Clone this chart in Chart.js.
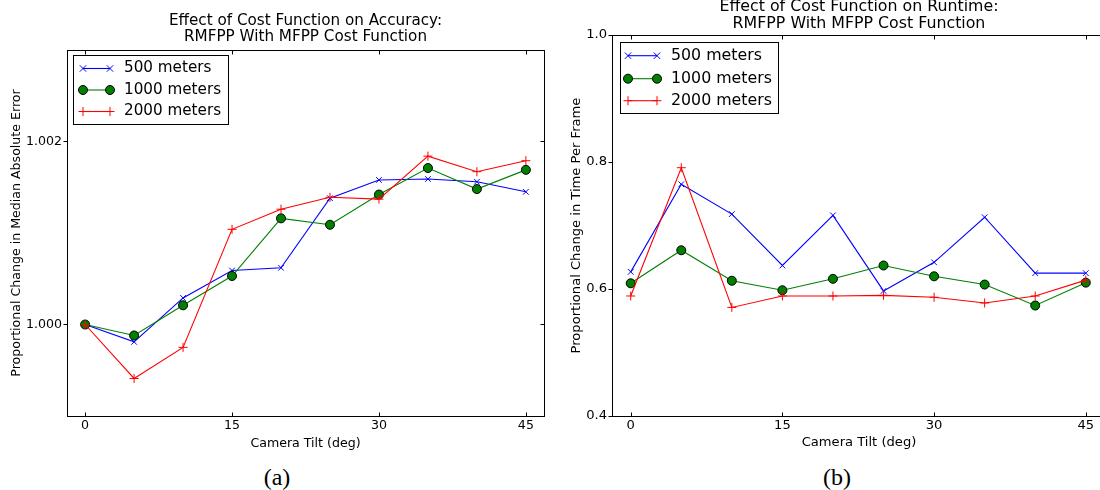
<!DOCTYPE html>
<html lang="en">
<head>
<meta charset="UTF-8">
<title>Effect of Cost Function</title>
<script src="https://cdn.jsdelivr.net/npm/chart.js"></script>
<style>
  body { margin: 0; background: #fff; width: 1100px; height: 490px; overflow: hidden; position: relative; }
  .panel { position: absolute; top: 0; width: 560px; height: 460px; }
  #panelA { left: 0; }
  #panelB { left: 560px; }
  .caption { position: absolute; top: 463px; width: 60px; text-align: center;
             font-family: 'Liberation Serif', serif; font-size: 24px; line-height: 28px; color: #000; }
</style>
</head>
<body>
<div class="panel" id="panelA"><canvas id="accChart" width="560" height="460"></canvas></div>
<div class="panel" id="panelB"><canvas id="rtChart" width="560" height="460"></canvas></div>
<div class="caption" style="left:247px">(a)</div>
<div class="caption" style="left:807px">(b)</div>
<script>
// --- data ---
const tilt = [0, 5, 10, 15, 20, 25, 30, 35, 40, 45];
const seriesNames = ['500 meters', '1000 meters', '2000 meters'];

const acc500  = [1.00000, 0.99981, 1.00029, 1.00059, 1.00062, 1.00138, 1.00158, 1.00159, 1.00156, 1.00145];
const acc1000 = [1.00000, 0.99988, 1.00021, 1.00053, 1.00116, 1.00109, 1.00142, 1.00171, 1.00148, 1.00169];
const acc2000 = [1.00000, 0.99941, 0.99975, 1.00104, 1.00126, 1.00139, 1.00137, 1.00184, 1.00167, 1.00179];

const rt500  = [0.627, 0.765, 0.718, 0.637, 0.716, 0.597, 0.642, 0.713, 0.625, 0.625];
const rt1000 = [0.609, 0.661, 0.613, 0.598, 0.616, 0.637, 0.620, 0.607, 0.574, 0.610];
const rt2000 = [0.589, 0.791, 0.571, 0.589, 0.589, 0.590, 0.587, 0.578, 0.589, 0.614];

const tiltTicks = [0, 15, 30, 45];
const accTicks = [1.000, 1.002];
const rtTicks = [0.4, 0.6, 0.8, 1.0];

// matplotlib-like line styles
const lineStyles = [
  { color: '#0000ff', marker: 'crossRot', radius: 4,   fill: '#0000ff', edge: '#0000ff' },
  { color: '#008000', marker: 'circle',   radius: 4.5, fill: '#007f00', edge: '#000000' },
  { color: '#ff0000', marker: 'cross',    radius: 4.5, fill: '#ff0000', edge: '#ff0000' }
];

function drawMarker(ctx, st, x, y) {
  const r = st.radius;
  ctx.save();
  ctx.lineWidth = 1;
  ctx.strokeStyle = st.edge;
  ctx.beginPath();
  if (st.marker === 'circle') {
    ctx.fillStyle = st.fill;
    ctx.arc(x, y, r, 0, Math.PI * 2);
    ctx.fill();
    ctx.stroke();
  } else if (st.marker === 'cross') {
    ctx.moveTo(x - r, y); ctx.lineTo(x + r, y);
    ctx.moveTo(x, y - r); ctx.lineTo(x, y + r);
    ctx.stroke();
  } else {
    const d = r * 0.8;
    ctx.moveTo(x - d, y - d); ctx.lineTo(x + d, y + d);
    ctx.moveTo(x - d, y + d); ctx.lineTo(x + d, y - d);
    ctx.stroke();
  }
  ctx.restore();
}

// frame, inward ticks, title and legend drawn the matplotlib way
const mplDecor = {
  id: 'mplDecor',
  afterDraw(chart, args, o) {
    const ctx = chart.ctx, a = chart.chartArea;
    const xs = chart.scales.x, ys = chart.scales.y;
    ctx.save();
    ctx.strokeStyle = '#000';
    ctx.lineWidth = 1;
    const L0 = Math.round(a.left) + 0.5, T0 = Math.round(a.top) + 0.5;
    const R0 = Math.round(a.right) + 0.5, B0 = Math.round(a.bottom) + 0.5;
    ctx.strokeRect(L0, T0, R0 - L0, B0 - T0);
    ctx.beginPath();
    xs.ticks.forEach(t => {
      const px = Math.round(xs.getPixelForValue(t.value)) + 0.5;
      ctx.moveTo(px, B0); ctx.lineTo(px, B0 - o.tickLen);
      ctx.moveTo(px, T0); ctx.lineTo(px, T0 + o.tickLen);
    });
    ys.ticks.forEach(t => {
      const py = Math.round(ys.getPixelForValue(t.value)) + 0.5;
      ctx.moveTo(L0 - o.tickLen, py); ctx.lineTo(L0, py);
      ctx.moveTo(R0, py); ctx.lineTo(R0 - o.tickLen, py);
    });
    ctx.stroke();

    // title
    ctx.fillStyle = '#000';
    ctx.font = o.titleSize + 'px "DejaVu Sans"';
    ctx.textAlign = 'center';
    ctx.textBaseline = 'middle';
    const cx = (a.left + a.right) / 2;
    o.title.forEach((line, i) => ctx.fillText(line, cx, o.titleY[i]));

    // legend
    const lg = o.legend;
    ctx.fillStyle = '#fff';
    ctx.fillRect(lg.x, lg.y, lg.w, lg.h);
    ctx.strokeStyle = '#000';
    ctx.strokeRect(lg.x + 0.5, lg.y + 0.5, lg.w, lg.h);
    ctx.font = o.legendSize + 'px "DejaVu Sans"';
    ctx.textAlign = 'left';
    seriesNames.forEach((name, i) => {
      const st = lineStyles[i], y = lg.rows[i];
      ctx.strokeStyle = st.color;
      ctx.lineWidth = 1.1;
      ctx.beginPath();
      ctx.moveTo(lg.x1, y); ctx.lineTo(lg.x2, y);
      ctx.stroke();
      drawMarker(ctx, st, lg.x1, y);
      drawMarker(ctx, st, lg.x2, y);
      ctx.fillStyle = '#000';
      ctx.fillText(name, lg.tx, y);
    });
    ctx.restore();
  }
};

function makePanel(id, series, yTicks, digits, g) {
  const datasets = series.map((vals, i) => ({
    label: seriesNames[i],
    data: tilt.map((t, k) => ({ x: t, y: vals[k] })),
    borderColor: lineStyles[i].color,
    backgroundColor: lineStyles[i].fill,
    borderWidth: 1.1,
    pointStyle: lineStyles[i].marker,
    pointRadius: lineStyles[i].radius,
    pointBackgroundColor: lineStyles[i].fill,
    pointBorderColor: lineStyles[i].edge,
    pointBorderWidth: 1,
    tension: 0,
    order: 3 - i
  }));
  const tickFont = { family: 'DejaVu Sans', size: g.tickSize };
  return new Chart(document.getElementById(id), {
    type: 'line',
    data: { datasets: datasets },
    options: {
      responsive: false,
      animation: false,
      layout: { padding: { top: g.top, right: g.padRight, left: 0, bottom: 0 } },
      plugins: {
        legend: { display: false },
        tooltip: { enabled: false },
        mplDecor: {
          tickLen: 4,
          title: g.title, titleY: g.titleY, titleSize: g.titleSize,
          legendSize: g.legendSize, legend: g.legend
        }
      },
      scales: {
        x: {
          type: 'linear', min: g.xMin, max: g.xMax,
          afterBuildTicks: s => { s.ticks = tiltTicks.map(v => ({ value: v })); },
          afterFit: s => { s.height = g.xAxisH; },
          grid: { display: false, drawTicks: false },
          border: { display: false },
          ticks: { font: tickFont, color: '#000', padding: 2, maxRotation: 0, autoSkip: false },
          title: { display: true, text: 'Camera Tilt (deg)', color: '#000',
                   font: tickFont, padding: { top: 0, bottom: g.xTitlePad } }
        },
        y: {
          min: g.yMin, max: g.yMax,
          afterBuildTicks: s => { s.ticks = yTicks.map(v => ({ value: v })); },
          afterFit: s => { s.width = g.left; },
          grid: { display: false, drawTicks: false },
          border: { display: false },
          ticks: { font: tickFont, color: '#000', padding: 5, autoSkip: false,
                   callback: v => Number(v).toFixed(digits) },
          title: { display: true, text: g.yTitle, color: '#000',
                   font: tickFont, padding: { top: g.yTitlePad, bottom: 0 } }
        }
      }
    },
    plugins: [mplDecor]
  });
}

makePanel('accChart', [acc500, acc1000, acc2000], accTicks, 3, {
  left: 67, padRight: 16, top: 50, xAxisH: 44,
  xMin: -1.85, xMax: 46.85, yMin: 0.999, yMax: 1.003,
  tickSize: 12.6, titleSize: 15.2, legendSize: 15.2,
  title: ['Effect of Cost Function on Accuracy:', 'RMFPP With MFPP Cost Function'],
  titleY: [21, 37],
  yTitle: 'Proportional Change in Median Absolute Error', yTitlePad: 9.5, xTitlePad: 8.5,
  legend: { x: 73, y: 55, w: 155, h: 69, rows: [68.5, 90, 111.5], x1: 83, x2: 110, tx: 124 }
});

makePanel('rtChart', [rt500, rt1000, rt2000], rtTicks, 1, {
  left: 52, padRight: 14, top: 35, xAxisH: 44,
  xMin: -1.85, xMax: 47, yMin: 0.4, yMax: 1.0,
  tickSize: 13.1, titleSize: 15.8, legendSize: 15.8,
  title: ['Effect of Cost Function on Runtime:', 'RMFPP With MFPP Cost Function'],
  titleY: [6.5, 24],
  yTitle: 'Proportional Change in Time Per Frame', yTitlePad: 9, xTitlePad: 9.5,
  legend: { x: 60, y: 42, w: 158, h: 71, rows: [55.7, 78.7, 100.7], x1: 68, x2: 97, tx: 111 }
});
</script>
</body>
</html>
